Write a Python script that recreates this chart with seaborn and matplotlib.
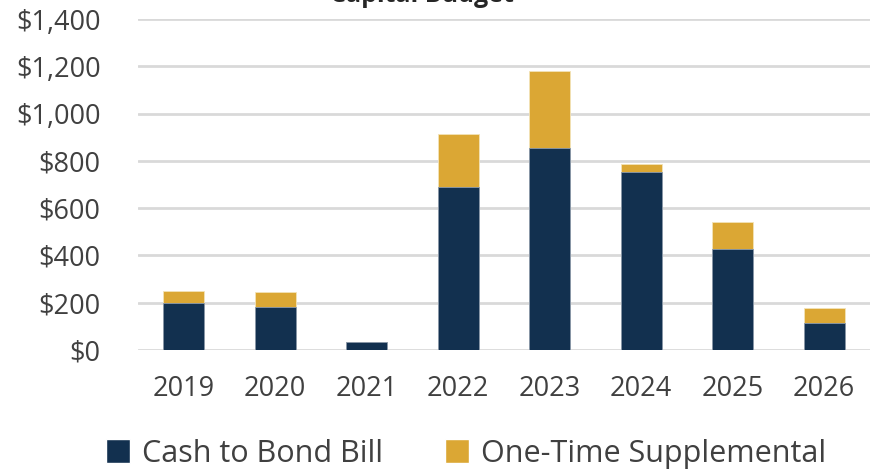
import matplotlib
matplotlib.use("Agg")
import matplotlib.pyplot as plt
import seaborn as sns
import pandas as pd
from matplotlib.ticker import FuncFormatter
from matplotlib.patches import Patch

years = ["2019", "2020", "2021", "2022", "2023", "2024", "2025", "2026"]
cash_to_bond = [200, 183, 35, 691, 856, 753, 427, 113]
one_time = [48, 62, 0, 223, 324, 35, 113, 63]
title = "Capital Budget"

navy = "#12304F"
gold = "#DBA734"

sns.set_theme(style="white")
plt.rcParams['font.family'] = ['Open Sans', 'DejaVu Sans']

df = pd.DataFrame({"year": years, "cash": cash_to_bond, "supp": one_time})
df["total"] = df["cash"] + df["supp"]

fig = plt.figure(figsize=(8.76, 4.75), dpi=100)
ax = fig.add_axes([0.1575, 0.263, 0.8355, 0.697])

sns.barplot(data=df, x="year", y="total", color=gold, saturation=1, width=0.45,
            edgecolor="#F3E3B8", linewidth=0.6, ax=ax, zorder=3)
sns.barplot(data=df, x="year", y="cash", color=navy, saturation=1, width=0.45,
            edgecolor="#8A9AAE", linewidth=0.6, ax=ax, zorder=4)

ax.set_ylim(0, 1400)
ax.set_yticks(range(0, 1401, 200))
ax.yaxis.set_major_formatter(FuncFormatter(lambda v, p: f"${int(v):,}"))
ax.grid(axis="y", color="#D9D9D9", linewidth=2, zorder=0)
ax.set_axisbelow(True)
for s in ax.spines.values():
    s.set_visible(False)
ax.set_xlabel("")
ax.set_ylabel("")
ax.tick_params(axis="both", labelsize=19.5, colors="#404040", length=0)
ax.tick_params(axis="y", pad=27)
ax.tick_params(axis="x", pad=18)
ax.set_xlim(-0.5, 7.5)

handles = [Patch(facecolor=navy, label="Cash to Bond Bill"),
           Patch(facecolor=gold, label="One-Time Supplemental")]
fig.legend(handles=handles, loc="center", bbox_to_anchor=(0.532, 0.045), ncol=2,
           frameon=False, fontsize=22, handlelength=0.8, handleheight=0.8,
           columnspacing=2.0, handletextpad=0.4, labelcolor="#404040")

fig.text(0.482, 1 - 2 / 475, title, ha="center", va="baseline",
         fontsize=18, fontweight="bold", color="#262626")

fig.savefig("out.png", dpi=100)
